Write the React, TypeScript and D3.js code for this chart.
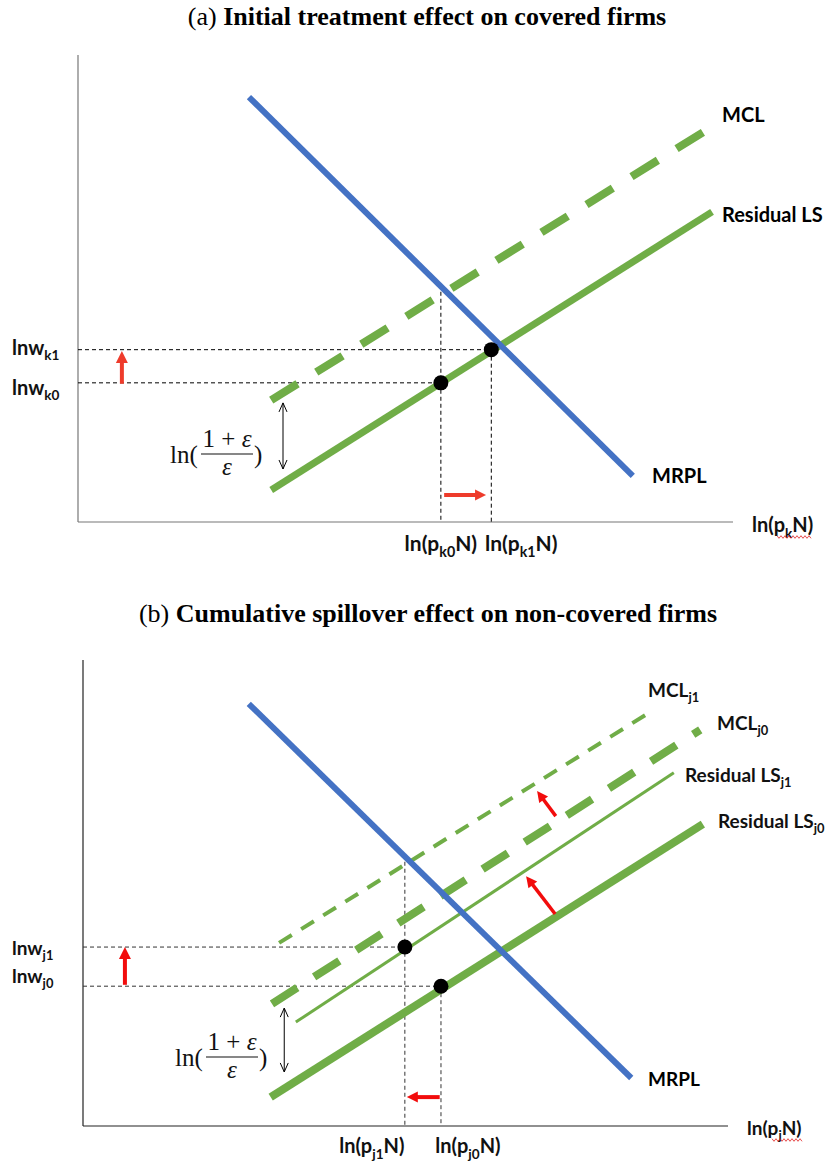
import React from "react";
import * as d3 from "d3";

type Pt = [number, number];

// ---------- Panel (a): initial treatment effect on covered firms ----------
const A_TITLE: [string, string] = ["(a) ", "Initial treatment effect on covered firms"];
const A_MRPL: Pt[] = [[26.1, 91.0], [84.7, 9.9]];
const A_MCL: Pt[] = [[29.5, 26.1], [96.5, 84.4]];
const A_LS: Pt[] = [[29.5, 6.85], [96.8, 66.4]];
const A_EQ: Pt[] = [[55.4, 29.8], [63.1, 36.9]]; // k0, k1
const A_VTOP: number[] = [49.3, 36.9];
const A_WAGE_SHIFT: Pt[] = [[6.7, 29.6], [6.7, 36.6]];
const A_EMP_SHIFT: Pt[] = [[55.9, 5.8], [62.3, 5.8]];
const A_GAP: Pt[] = [[31.3, 25.5], [31.3, 11.35]];
const A_YLABELS = ["k0", "k1"];
const A_XLABELS = ["k0", "k1"];

// ---------- Panel (b): cumulative spillover effect on non-covered firms ----------
const B_TITLE: [string, string] = ["(b) ", "Cumulative spillover effect on non-covered firms"];
const B_MRPL: Pt[] = [[25.7, 90.6], [85.0, 10.3]];
const B_MCL1: Pt[] = [[30.4, 39.3], [87.9, 88.8]];
const B_MCL0: Pt[] = [[29.3, 26.2], [95.7, 85.0]];
const B_LS1: Pt[] = [[33.0, 22.3], [91.6, 75.8]];
const B_LS0: Pt[] = [[29.1, 6.2], [96.1, 64.8]];
const B_EQ: Pt[] = [[49.9, 38.4], [55.5, 30.0]]; // j1, j0
const B_VTOP: number[] = [56.7, 30.0];
const B_WAGE_SHIFT: Pt[] = [[6.5, 30.3], [6.5, 38.4]];
const B_EMP_SHIFT: Pt[] = [[55.3, 6.2], [50.2, 6.2]];
const B_SHIFT_MCL: Pt[] = [[73.3, 66.5], [70.4, 71.9]];
const B_SHIFT_LS: Pt[] = [[73.2, 45.5], [68.7, 53.6]];
const B_GAP: Pt[] = [[31.2, 25.3], [31.2, 11.6]];
const B_YLABELS = ["j1", "j0"];
const B_XLABELS = ["j1", "j0"];

const BLUE = "#4472C4";
const GREEN = "#70AD47";
const LABEL_FONT = "Lato, 'Open Sans', sans-serif";
const SERIF = "'Liberation Serif', 'Times New Roman', serif";

type Scale = d3.ScaleLinear<number, number>;

function Seg({ pts, xs, ys, ...rest }: any) {
  return (
    <line
      x1={xs(pts[0][0])}
      y1={ys(pts[0][1])}
      x2={xs(pts[1][0])}
      y2={ys(pts[1][1])}
      {...rest}
    />
  );
}

function RedArrow({ pts, xs, ys, color, w = 4, hl = 12, hw = 12 }: any) {
  const x1 = xs(pts[0][0]), y1 = ys(pts[0][1]);
  const x2 = xs(pts[1][0]), y2 = ys(pts[1][1]);
  const dx = x2 - x1, dy = y2 - y1;
  const L = Math.hypot(dx, dy);
  const ux = dx / L, uy = dy / L;
  const bx = x2 - ux * hl, by = y2 - uy * hl;
  const px = -uy, py = ux;
  const poly = [
    [x2, y2],
    [bx + px * hw / 2, by + py * hw / 2],
    [bx - px * hw / 2, by - py * hw / 2],
  ];
  return (
    <g>
      <line x1={x1} y1={y1} x2={bx + ux} y2={by + uy} stroke={color} strokeWidth={w} />
      <polygon points={poly.map((p) => p.join(",")).join(" ")} fill={color} />
    </g>
  );
}

function DoubleArrow({ pts, xs, ys }: any) {
  const x = xs(pts[0][0]);
  const yTop = ys(pts[0][1]);
  const yBot = ys(pts[1][1]);
  return (
    <g stroke="#000" strokeWidth={1} fill="none">
      <line x1={x} y1={yTop} x2={x} y2={yBot} />
      <polyline points={`${x - 4},${yTop + 9} ${x},${yTop} ${x + 4},${yTop + 9}`} />
      <polyline points={`${x - 4},${yBot - 9} ${x},${yBot} ${x + 4},${yBot - 9}`} />
    </g>
  );
}

function SubLabel({ x, y, base, sub, tail = "", size = 20, anchor = "start" }: any) {
  return (
    <text x={x} y={y} fontFamily={LABEL_FONT} fontWeight={700} fontSize={size} textAnchor={anchor} fill="#111">
      {base}
      <tspan fontSize={size * 0.68} dy={size * 0.28}>{sub}</tspan>
      <tspan dy={-size * 0.28}>{tail}</tspan>
    </text>
  );
}

function Wavy({ x1, x2, y }: any) {
  const pts: [number, number][] = [];
  for (let x = x1, i = 0; x <= x2; x += 2, i++) pts.push([x, y + (i % 2 ? 1.3 : -1.3)]);
  return <path d={d3.line()(pts) || ""} stroke="#E02020" strokeWidth={0.8} fill="none" />;
}

function MathLabel({ x, barY }: any) {
  return (
    <g fontFamily={SERIF} fill="#111">
      <text x={x} y={barY + 9} fontSize={25}>ln(</text>
      <text x={x + 57} y={barY - 7} fontSize={25} textAnchor="middle">
        1 + <tspan fontStyle="italic">ε</tspan>
      </text>
      <line x1={x + 31} x2={x + 83} y1={barY} y2={barY} stroke="#111" strokeWidth={1.2} />
      <text x={x + 57} y={barY + 21} fontSize={25} fontStyle="italic" textAnchor="middle">ε</text>
      <text x={x + 84} y={barY + 9} fontSize={25}>)</text>
    </g>
  );
}

function PanelA() {
  const xs: Scale = d3.scaleLinear().domain([0, 100]).range([78, 733]);
  const ys: Scale = d3.scaleLinear().domain([0, 100]).range([522, 55]);
  const red = "#EE3B2B";
  return (
    <g>
      <text x={427} y={25} textAnchor="middle" fontFamily={SERIF} fontSize={26} fill="#000">
        {A_TITLE[0]}
        <tspan fontWeight={700}>{A_TITLE[1]}</tspan>
      </text>
      {/* axes */}
      <line x1={xs(0)} y1={ys(100)} x2={xs(0)} y2={ys(0)} stroke="#777" strokeWidth={1.2} />
      <line x1={xs(0)} y1={ys(0)} x2={xs(100)} y2={ys(0)} stroke="#777" strokeWidth={1.2} />
      {/* guides */}
      <g stroke="#000" strokeWidth={1} strokeDasharray="4,3">
        {A_EQ.map((p, i) => (
          <g key={i}>
            <line x1={xs(0)} y1={ys(p[1])} x2={xs(p[0])} y2={ys(p[1])} />
            <line x1={xs(p[0])} y1={ys(A_VTOP[i])} x2={xs(p[0])} y2={ys(0)} />
          </g>
        ))}
      </g>
      {/* curves */}
      <Seg pts={A_LS} xs={xs} ys={ys} stroke={GREEN} strokeWidth={7} />
      <Seg pts={A_MCL} xs={xs} ys={ys} stroke={GREEN} strokeWidth={8} strokeDasharray="31,22" />
      <Seg pts={A_MRPL} xs={xs} ys={ys} stroke={BLUE} strokeWidth={6} />
      {A_EQ.map((p, i) => (
        <circle key={i} cx={xs(p[0])} cy={ys(p[1])} r={7.5} fill="#000" />
      ))}
      <RedArrow pts={A_WAGE_SHIFT} xs={xs} ys={ys} color={red} w={4} hl={12} hw={12} />
      <RedArrow pts={A_EMP_SHIFT} xs={xs} ys={ys} color={red} w={4} hl={11} hw={11} />
      <DoubleArrow pts={A_GAP} xs={xs} ys={ys} />
      <MathLabel x={170} barY={454} />
      {/* labels */}
      <SubLabel x={12} y={ys(A_EQ[1][1]) + 5} base="lnw" sub={A_YLABELS[1]} />
      <SubLabel x={12} y={ys(A_EQ[0][1]) + 12} base="lnw" sub={A_YLABELS[0]} />
      <text x={722} y={122} fontFamily={LABEL_FONT} fontWeight={700} fontSize={20}>MCL</text>
      <text x={722} y={222} fontFamily={LABEL_FONT} fontWeight={700} fontSize={20}>Residual LS</text>
      <text x={652} y={483} fontFamily={LABEL_FONT} fontWeight={700} fontSize={20}>MRPL</text>
      <SubLabel x={752} y={532} base="ln(p" sub="k" tail="N)" />
      <Wavy x1={777} x2={812} y={537} />
      <SubLabel x={xs(A_EQ[0][0])} y={551} base="ln(p" sub={A_XLABELS[0]} tail="N)" size={21} anchor="middle" />
      <SubLabel x={xs(A_EQ[1][0]) + 30} y={551} base="ln(p" sub={A_XLABELS[1]} tail="N)" size={21} anchor="middle" />
    </g>
  );
}

function PanelB() {
  const xs: Scale = d3.scaleLinear().domain([0, 100]).range([83, 728]);
  const ys: Scale = d3.scaleLinear().domain([0, 100]).range([1126, 660]);
  const red = "#F20C0C";
  return (
    <g>
      <text x={428} y={622} textAnchor="middle" fontFamily={SERIF} fontSize={26} fill="#000">
        {B_TITLE[0]}
        <tspan fontWeight={700}>{B_TITLE[1]}</tspan>
      </text>
      <line x1={xs(0)} y1={ys(100)} x2={xs(0)} y2={ys(0)} stroke="#222" strokeWidth={1.2} />
      <line x1={xs(0)} y1={ys(0)} x2={xs(100)} y2={ys(0)} stroke="#222" strokeWidth={1.2} />
      <g stroke="#333" strokeWidth={1} strokeDasharray="4,3">
        {B_EQ.map((p, i) => (
          <g key={i}>
            <line x1={xs(0)} y1={ys(p[1])} x2={xs(p[0])} y2={ys(p[1])} />
            <line x1={xs(p[0])} y1={ys(B_VTOP[i])} x2={xs(p[0])} y2={ys(0)} />
          </g>
        ))}
      </g>
      <Seg pts={B_LS0} xs={xs} ys={ys} stroke={GREEN} strokeWidth={8} />
      <Seg pts={B_LS1} xs={xs} ys={ys} stroke={GREEN} strokeWidth={3} />
      <Seg pts={B_MCL0} xs={xs} ys={ys} stroke={GREEN} strokeWidth={8} strokeDasharray="30,20" />
      <Seg pts={B_MCL1} xs={xs} ys={ys} stroke={GREEN} strokeWidth={4} strokeDasharray="15,11" />
      <Seg pts={B_MRPL} xs={xs} ys={ys} stroke={BLUE} strokeWidth={6} />
      {B_EQ.map((p, i) => (
        <circle key={i} cx={xs(p[0])} cy={ys(p[1])} r={7.5} fill="#000" />
      ))}
      <RedArrow pts={B_WAGE_SHIFT} xs={xs} ys={ys} color={red} w={4} hl={12} hw={12} />
      <RedArrow pts={B_EMP_SHIFT} xs={xs} ys={ys} color={red} w={4} hl={11} hw={11} />
      <RedArrow pts={B_SHIFT_MCL} xs={xs} ys={ys} color={red} w={3.5} hl={11} hw={11} />
      <RedArrow pts={B_SHIFT_LS} xs={xs} ys={ys} color={red} w={3.5} hl={11} hw={11} />
      <DoubleArrow pts={B_GAP} xs={xs} ys={ys} />
      <MathLabel x={175} barY={1057} />
      <SubLabel x={12} y={955} base="lnw" sub={B_YLABELS[0]} size={19} />
      <SubLabel x={12} y={983} base="lnw" sub={B_YLABELS[1]} size={19} />
      <SubLabel x={648} y={697} base="MCL" sub="j1" size={19} />
      <SubLabel x={717} y={730} base="MCL" sub="j0" size={19} />
      <SubLabel x={685} y={782} base="Residual LS" sub="j1" size={19} />
      <SubLabel x={718} y={828} base="Residual LS" sub="j0" size={19} />
      <text x={648} y={1086} fontFamily={LABEL_FONT} fontWeight={700} fontSize={19}>MRPL</text>
      <SubLabel x={747} y={1135} base="ln(p" sub="j" tail="N)" size={19} />
      <Wavy x1={772} x2={803} y={1140} />
      <SubLabel x={xs(B_EQ[0][0]) - 33} y={1153} base="ln(p" sub={B_XLABELS[0]} tail="N)" size={20} anchor="middle" />
      <SubLabel x={xs(B_EQ[1][0]) + 27} y={1153} base="ln(p" sub={B_XLABELS[1]} tail="N)" size={20} anchor="middle" />
    </g>
  );
}

export default function App() {
  return (
    <svg
      width={835}
      height={1162}
      viewBox="0 0 835 1162"
      style={{ position: "absolute", left: 0, top: 0, background: "#fff" }}
    >
      <rect width={835} height={1162} fill="#fff" />
      <PanelA />
      <PanelB />
    </svg>
  );
}
